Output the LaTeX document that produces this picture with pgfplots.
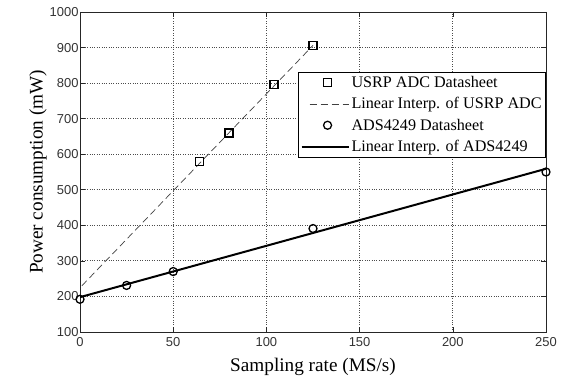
\documentclass[border=0pt]{standalone}
\usepackage{fontspec}
\setmainfont{Liberation Serif}
\newfontfamily\sansf{Liberation Sans}
\usepackage{pgfplots}
\pgfplotsset{compat=1.18}
\pgfplotsset{
  legmark/.style={legend image code/.code={\draw[##1] plot coordinates {(26bp,0bp)};}},
  legdash/.style={legend image code/.code={\draw[##1] (8bp,0bp) -- (47bp,0bp);}},
  legsolid/.style={legend image code/.code={\draw[##1] (0bp,0bp) -- (47bp,0bp);}},
}
\begin{document}
\begin{tikzpicture}[x=1bp,y=1bp]
\useasboundingbox (0,0) rectangle (564bp,378bp);
\begin{axis}[
  at={(80bp,46bp)}, anchor=south west,
  scale only axis, width=466bp, height=320bp,
  xmin=0, xmax=250, ymin=100, ymax=1000,
  xtick={0,50,100,150,200,250},
  ytick={100,200,...,1000},
  tick align=inside, major tick length=5bp,
  xtick pos=both, ytick pos=both,
  grid=major,
  major grid style={black!70, dotted, line width=0.8pt},
  axis line style={line width=0.8pt, black!85},
  tick style={black!85, line width=0.6pt},
  /pgf/number format/assume math mode=true,
  /pgf/number format/set thousands separator={},
  tick label style={font=\sansf\fontsize{13}{13}\selectfont, text=black!80},
  yticklabel style={xshift=2bp},
  xticklabel style={yshift=-2bp},
  xlabel={Sampling rate (MS/s)},
  ylabel={Power consumption (mW)},
  label style={font=\fontsize{19.3}{20}\selectfont},
  xlabel style={yshift=-5bp},
  ylabel style={yshift=-4bp},
  legend style={at={(1,0.8125)}, anchor=north east, draw=black, line width=0.8pt,
    font=\fontsize{16.2}{18}\selectfont, inner sep=2bp, row sep=4.5bp,
    cells={anchor=west}},
  legend cell align=left,
]
\addplot[only marks, mark=square, mark size=4bp, line width=1.5pt, legmark]
  coordinates {(64,580) (80,660) (104,796) (125,906)};
\addlegendentry{USRP ADC Datasheet}
\addplot[black!75, line width=0.7pt, dash pattern=on 7bp off 4bp, legdash]
  coordinates {(1,230) (125,906)};
\addlegendentry{Linear Interp. of USRP ADC}
\addplot[only marks, mark=o, mark size=4bp, line width=1.3pt, legmark]
  coordinates {(0,192) (25,231) (50,270) (125,391) (250,550)};
\addlegendentry{ADS4249 Datasheet}
\addplot[black, line width=2pt, legsolid]
  coordinates {(0,198) (250,559)};
\addlegendentry{Linear Interp. of ADS4249}
\end{axis}
\end{tikzpicture}
\end{document}
